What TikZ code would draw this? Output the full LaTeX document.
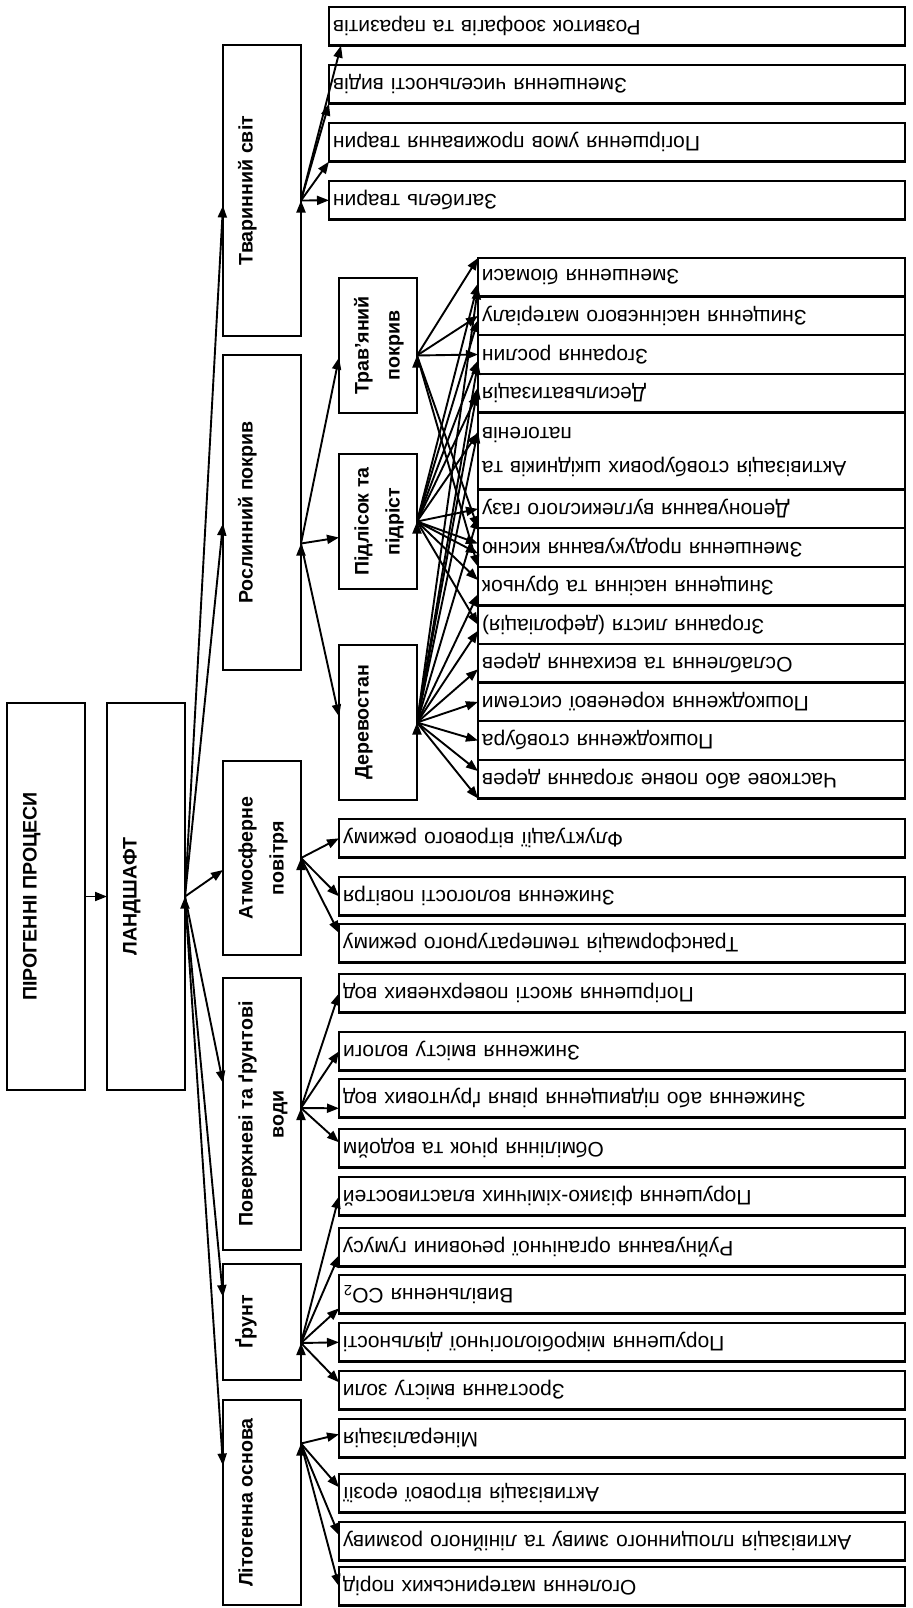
\documentclass[tikz,border=0pt]{standalone}
\usepackage{fontspec}
\setmainfont{Liberation Sans}
\usepackage{graphicx}
\usetikzlibrary{arrows.meta,positioning}

\newcommand{\vlabel}[1]{\rotatebox{90}{\begin{tabular}{@{}c@{}}#1\end{tabular}}}
\newcommand{\flipped}[1]{\rotatebox[origin=c]{180}{#1}}

\tikzset{
  frame/.style={draw, line width=1.2pt, anchor=north west, inner sep=0pt,
    outer sep=0pt, minimum width=39pt, align=center,
    font=\bfseries\fontsize{9.8}{15.5}\selectfont},
  leaf/.style={draw, line width=1.2pt, anchor=north west, inner sep=0pt,
    inner xsep=2pt, outer sep=0pt, minimum height=19.3pt, align=left,
    font=\fontsize{10.5}{17}\selectfont},
  tleaf/.style={leaf, text width=284pt},
  oleaf/.style={leaf, text width=279pt},
  pleaf/.style={leaf, text width=209.5pt},
  arr/.style={line width=0.95pt, -{Triangle[length=6pt,width=4.5pt]}},
}

\begin{document}
\begin{tikzpicture}[x=0.5pt,y=-0.5pt]
  \path[fill=white] (0,0) rectangle (912,1608);
  \useasboundingbox (0,0) rectangle (912,1608);

  % root and landscape
  \node[frame, minimum height=193.5pt] (pp) at (7,703) {\vlabel{ПІРОГЕННІ ПРОЦЕСИ\\ ~}};
  \node[frame, minimum height=193.5pt] (ls) at (107,703) {\vlabel{ЛАНДШАФТ\\ ~}};

  % components of the landscape
  \node[frame, minimum height=145.5pt] (tv) at (223,45) {\vlabel{Тваринний світ\\ ~}};
  \node[frame, minimum height=157.5pt] (rp) at (223,355) {\vlabel{Рослинний покрив\\ ~}};
  \node[frame, minimum height=97pt] (ap) at (223,761) {\vlabel{Атмосферне\\повітря}};
  \node[frame, minimum height=136pt] (pv) at (223,978) {\vlabel{Поверхневі та ґрунтові\\води}};
  \node[frame, minimum height=58pt] (gr) at (223,1264) {\vlabel{Ґрунт\\ ~}};
  \node[frame, minimum height=102.5pt] (lo) at (223,1400) {\vlabel{Літогенна основа\\ ~}};

  % layers of the vegetation
  \node[frame, minimum height=67.5pt] (tr) at (339,278) {\vlabel{Трав’яний\\покрив}};
  \node[frame, minimum height=67.5pt] (pd) at (339,454) {\vlabel{Підлісок та\\підріст}};
  \node[frame, minimum height=77.5pt] (dv) at (339,645) {\vlabel{Деревостан\\ ~}};

  % animals
  \node[tleaf] (t1) at (329,7) {\flipped{Розвиток зоофагів та паразитів}};
  \node[tleaf] (t2) at (329,65) {\flipped{Зменшення чисельності видів}};
  \node[tleaf] (t3) at (329,123) {\flipped{Погіршення умов проживання тварин}};
  \node[tleaf] (t4) at (329,181) {\flipped{Загибель тварин}};

  % vegetation
  \node[pleaf] (p1) at (478,258) {\flipped{Зменшення біомаси}};
  \node[pleaf, below=0pt of p1] (p2) {\flipped{Знищення насіннєвого матеріалу}};
  \node[pleaf, below=0pt of p2] (p3) {\flipped{Згорання рослин}};
  \node[pleaf, below=0pt of p3] (p4) {\flipped{Десильватизація}};
  \node[pleaf, minimum height=38.6pt, below=0pt of p4] (p5)
    {\flipped{\begin{tabular}{@{}r@{}}Активізація стовбурових шкідників та\\патогенів\end{tabular}}};
  \node[pleaf, below=0pt of p5] (p6) {\flipped{Депонування вуглекислого газу}};
  \node[pleaf, below=0pt of p6] (p7) {\flipped{Зменшення продукування кисню}};
  \node[pleaf, below=0pt of p7] (p8) {\flipped{Знищення насіння та бруньок}};
  \node[pleaf, below=0pt of p8] (p9) {\flipped{Згорання листя (дефоліація)}};
  \node[pleaf, below=0pt of p9] (p10) {\flipped{Ослаблення та всихання дерев}};
  \node[pleaf, below=0pt of p10] (p11) {\flipped{Пошкодження кореневої системи}};
  \node[pleaf, below=0pt of p11] (p12) {\flipped{Пошкодження стовбура}};
  \node[pleaf, below=0pt of p12] (p13) {\flipped{Часткове або повне згорання дерев}};

  % air
  \node[oleaf] (a1) at (339,819) {\flipped{Флуктуації вітрового режиму}};
  \node[oleaf] (a2) at (339,877) {\flipped{Зниження вологості повітря}};
  \node[oleaf] (a3) at (339,924) {\flipped{Трансформація температурного режиму}};

  % waters
  \node[oleaf] (w1) at (339,974) {\flipped{Погіршення якості поверхневих вод}};
  \node[oleaf] (w2) at (339,1032) {\flipped{Зниження вмісту вологи}};
  \node[oleaf] (w3) at (339,1079) {\flipped{Зниження або підвищення рівня ґрунтових вод}};
  \node[oleaf] (w4) at (339,1129) {\flipped{Обміління річок та водойм}};

  % soil
  \node[oleaf] (s1) at (339,1177) {\flipped{Порушення фізико-хімічних властивостей}};
  \node[oleaf] (s2) at (339,1228) {\flipped{Руйнування органічної речовини гумусу}};
  \node[oleaf] (s3) at (339,1275) {\flipped{Вивільнення CO\textsubscript{2}}};
  \node[oleaf] (s4) at (339,1323) {\flipped{Порушення мікробіологічної діяльності}};
  \node[oleaf] (s5) at (339,1371) {\flipped{Зростання вмісту золи}};

  % lithogenic base
  \node[oleaf] (m1) at (339,1419) {\flipped{Мінералізація}};
  \node[oleaf] (m2) at (339,1474) {\flipped{Активізація вітрової ерозії}};
  \node[oleaf] (m3) at (339,1522) {\flipped{Активізація площинного змиву та лінійного розмиву}};
  \node[oleaf] (m4) at (339,1567) {\flipped{Оголення материнських порід}};

  % connectors
  \draw[arr] (pp.east) -- (ls.west);
  \draw[arr] (ls.east) edge ([yshift=-7.5pt]tv.west) edge ([yshift=-5.5pt]rp.west)
    edge ([yshift=-6pt]ap.west) edge ([yshift=15.5pt]pv.west)
    edge ([yshift=12.5pt]gr.west) edge ([yshift=18.5pt]lo.west);
  \draw[arr] ([yshift=-5pt]tv.east) edge (t4.west) edge (t3.south west)
    edge (t2.south west) edge ([xshift=6pt]t1.south west);
  \draw[arr] ([yshift=-15.5pt]rp.east) edge ([yshift=-6pt]tr.west)
    edge ([yshift=-8pt]pd.west) edge ([yshift=3pt]dv.west);
  \draw[arr] ([yshift=-5pt]tr.east) edge (p1.north west) edge (p2.west)
    edge (p3.west) edge (p7.north west) edge (p8.north west);
  \draw[arr] (pd.east) edge ([yshift=-3pt]p1.west) edge ([yshift=-2pt]p2.west)
    edge ([yshift=-3pt]p3.west) edge (p4.west) edge ([yshift=9pt]p5.west)
    edge (p6.west) edge ([yshift=2pt]p7.west) edge ([yshift=-3pt]p7.west)
    edge ([yshift=3pt]p8.west) edge (p9.west);
  \draw[arr] (dv.east) edge ([yshift=-5pt]p1.west) edge ([yshift=-4pt]p3.west)
    edge ([yshift=3pt]p4.west) edge ([yshift=10pt]p5.west) edge ([yshift=-4pt]p6.west)
    edge ([yshift=-4pt]p8.west) edge ([yshift=-3pt]p9.west) edge ([yshift=-3pt]p10.west)
    edge (p11.west) edge (p12.west) edge ([yshift=4pt]p13.west) edge (p13.south west);
  \draw[arr] (ap.east) edge (a1.west) edge (a2.west) edge ([yshift=-4.5pt]a3.north west);
  \draw[arr] ([yshift=3pt]pv.east) edge (w1.west) edge (w2.west)
    edge ([yshift=-5pt]w3.west) edge ([yshift=3pt]w4.west);
  \draw[arr] ([yshift=-10.5pt]gr.east) edge (s1.west) edge ([yshift=-4pt]s2.west)
    edge ([yshift=-7pt]s3.west) edge (s4.west) edge ([yshift=4pt]s5.west);
  \draw[arr] ([yshift=29.5pt]lo.east) edge ([yshift=2pt]m1.west) edge ([yshift=3pt]m2.west)
    edge ([yshift=3pt]m3.west) edge (m4.west);
\end{tikzpicture}
\end{document}
